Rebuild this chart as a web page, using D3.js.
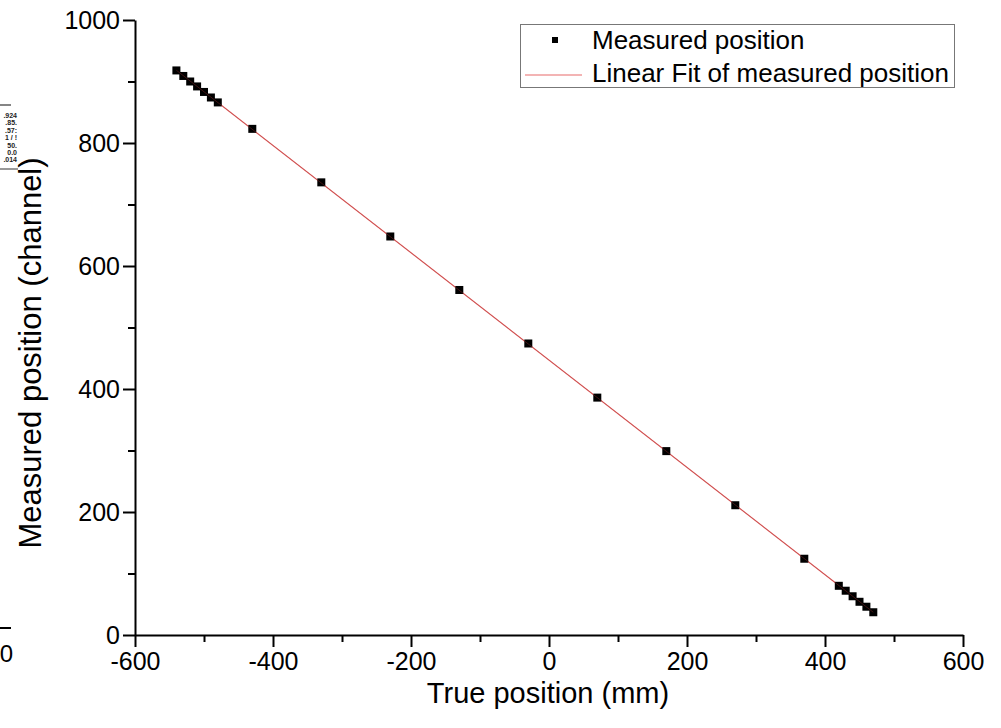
<!DOCTYPE html>
<html><head><meta charset="utf-8">
<script src="https://cdn.jsdelivr.net/npm/d3@7"></script>
<style>
html,body{margin:0;padding:0;background:#fff;}
svg{display:block;font-family:"Liberation Sans",Arial,sans-serif;}
</style></head>
<body><svg id="c" width="1001" height="728"></svg>
<script>
// ---- data ----
const truePos = [-540,-530,-520,-510,-500,-490,-480,-430,-330,-230,-130,-30,70,170,270,370,420,430,440,450,460,470];
const measured = [918,909,900,892,883,874,866,823,736,648,561,474,386,299,211,124,80,72,63,54,46,37];
const xMajorTicks = [-600,-400,-200,0,200,400,600];
const xMinorTicks = [-500,-300,-100,100,300,500];
const yMajorTicks = [0,200,400,600,800,1000];
const yMinorTicks = [100,300,500,700,900];
const legendLabels = ["Measured position","Linear Fit of measured position"];
const xTitle = "True position (mm)";
const yTitle = "Measured position (channel)";
const insetTexts = [".924",".85.",".57:","1 / !","50.","0.0",".014"];

const svg = d3.select("#c");
const x = d3.scaleLinear().domain([-600,600]).range([135,963]);
const y = d3.scaleLinear().domain([0,1000]).range([635,20]);

// linear fit (least squares) from the data
const n = truePos.length;
const mx = d3.mean(truePos), my = d3.mean(measured);
let sxy=0,sxx=0;
for(let i=0;i<n;i++){sxy+=(truePos[i]-mx)*(measured[i]-my);sxx+=(truePos[i]-mx)**2;}
const slope = sxy/sxx, icpt = my - slope*mx;
const fitX = d3.extent(truePos);

// axes
function styleAxis(g){
  g.selectAll("path.domain").attr("stroke","#000").attr("stroke-width",2);
  g.selectAll(".tick line").attr("stroke","#000").attr("stroke-width",2);
  g.selectAll(".tick text").attr("fill","#000").style("font-size","25px").style("font-family",'"Liberation Sans",Arial,sans-serif');
}
const gxMin = svg.append("g").attr("transform","translate(0,635)")
  .call(d3.axisBottom(x).tickValues(xMinorTicks).tickSize(7).tickSizeOuter(0).tickFormat(""));
styleAxis(gxMin); gxMin.select("path.domain").remove();
const gx = svg.append("g").attr("transform","translate(0,635)")
  .call(d3.axisBottom(x).tickValues(xMajorTicks).tickSize(12).tickSizeOuter(0).tickPadding(5).tickFormat(d3.format("d")));
styleAxis(gx);
gx.selectAll(".tick text").text(d=>d<0?"-"+Math.abs(d):d);

const gyMin = svg.append("g").attr("transform","translate(135,0)")
  .call(d3.axisLeft(y).tickValues(yMinorTicks).tickSize(7).tickSizeOuter(0).tickFormat(""));
styleAxis(gyMin); gyMin.select("path.domain").remove();
const gy = svg.append("g").attr("transform","translate(135,0)")
  .call(d3.axisLeft(y).tickValues(yMajorTicks).tickSize(12).tickSizeOuter(0).tickPadding(3).tickFormat(d3.format("d")));
styleAxis(gy);

// axis titles
svg.append("text").attr("x",548).attr("y",703).attr("text-anchor","middle")
  .style("font-size","29px").attr("fill","#000").text(xTitle);
svg.append("text").attr("transform","translate(41,353) rotate(-90)").attr("text-anchor","middle")
  .style("font-size","31px").attr("fill","#000").text(yTitle);

// fit line
svg.append("line")
  .attr("x1",x(fitX[0])).attr("y1",y(icpt+slope*fitX[0]))
  .attr("x2",x(fitX[1])).attr("y2",y(icpt+slope*fitX[1]))
  .attr("stroke","#e86a6a").attr("stroke-width",1.2);

// points
svg.append("g").selectAll("rect").data(truePos.map((d,i)=>[d,measured[i]])).join("rect")
  .attr("x",d=>x(d[0])-4).attr("y",d=>y(d[1])-4).attr("width",8).attr("height",8)
  .attr("fill","#000");
svg.append("line")
  .attr("x1",x(fitX[0])).attr("y1",y(icpt+slope*fitX[0]))
  .attr("x2",x(fitX[1])).attr("y2",y(icpt+slope*fitX[1]))
  .attr("stroke","#a03030").attr("stroke-width",0.8).attr("opacity",0.5);

// legend
const lg = svg.append("g");
lg.append("rect").attr("x",520.5).attr("y",24.5).attr("width",434).attr("height",63)
  .attr("fill","#fff").attr("stroke","#777").attr("stroke-width",1);
lg.append("rect").attr("x",552).attr("y",37).attr("width",6).attr("height",6).attr("fill","#000");
lg.append("line").attr("x1",525).attr("x2",582).attr("y1",75).attr("y2",75)
  .attr("stroke","#e86a6a").attr("stroke-width",1.2);
lg.selectAll("text.l").data(legendLabels).join("text").attr("class","l")
  .attr("x",592).attr("y",(d,i)=>49+i*33).style("font-size","26px").attr("fill","#000").text(d=>d);

// cropped neighbour-figure fragments at left edge
const ins = svg.append("g");
ins.append("line").attr("x1",0).attr("x2",11).attr("y1",105).attr("y2",105).attr("stroke","#333").attr("stroke-width",1.2);
ins.selectAll("text").data(insetTexts).join("text")
  .attr("x",17).attr("y",(d,i)=>118+i*7.4).attr("text-anchor","end")
  .style("font-size","7px").style("font-weight","bold").attr("fill","#222").text(d=>d);
ins.append("line").attr("x1",0).attr("x2",18).attr("y1",169).attr("y2",169).attr("stroke","#333").attr("stroke-width",1);
ins.append("line").attr("x1",0).attr("x2",11).attr("y1",628).attr("y2",628).attr("stroke","#000").attr("stroke-width",2);
ins.append("text").attr("x",13).attr("y",662).attr("text-anchor","end").style("font-size","24px").attr("fill","#000").text("00");
</script></body></html>
